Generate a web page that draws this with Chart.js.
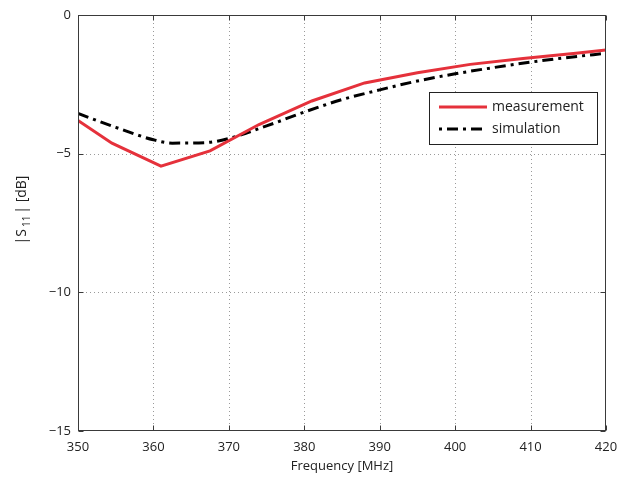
<!DOCTYPE html>
<html>
<head>
<meta charset="utf-8">
<script src="https://cdn.jsdelivr.net/npm/chart.js@4.4.1/dist/chart.umd.min.js"></script>
<style>
  html, body { margin: 0; padding: 0; background: #fff; }
  #wrap { width: 633px; height: 479px; }
</style>
</head>
<body>
<div id="wrap"><canvas id="s11"></canvas></div>
<script>
// measured return loss (linear segments between samples)
const measFreq = [350, 354.5, 361, 367.5, 374, 381, 388, 395, 402, 409, 416, 420];
const measDb = [-3.8, -4.62, -5.45, -4.9, -3.95, -3.1, -2.45, -2.08, -1.78, -1.57, -1.38, -1.26];

// simulated curve
const simFreq = [350, 355, 360, 362.5, 367, 370, 375, 380, 385, 390, 395, 400, 405, 410, 415, 420];
const simDb = [-3.55, -4.05, -4.5, -4.62, -4.6, -4.45, -4.0, -3.5, -3.05, -2.7, -2.38, -2.12, -1.9, -1.7, -1.53, -1.38];

const xTicks = [350, 360, 370, 380, 390, 400, 410, 420];
const yTicks = [0, -5, -10, -15];

const FONT = "'Open Sans', 'Noto Sans', sans-serif";
const RED = "#e5313b";
const DASHDOT = [11, 5, 3, 5];

function toPoints(xs, ys) {
  return xs.map((x, i) => ({ x, y: ys[i] }));
}

// dotted grid, boxed axes with inward ticks, legend and axis titles
const matlabFrame = {
  id: "matlabFrame",
  beforeDatasetsDraw(chart) {
    const { ctx, chartArea: a, scales } = chart;
    ctx.save();
    ctx.strokeStyle = "#9a9a9a";
    ctx.lineWidth = 1;
    ctx.setLineDash([1, 3]);
    xTicks.slice(1, -1).forEach(v => {
      const px = Math.round(scales.x.getPixelForValue(v)) + 0.5;
      ctx.beginPath(); ctx.moveTo(px, a.top); ctx.lineTo(px, a.bottom); ctx.stroke();
    });
    yTicks.slice(1, -1).forEach(v => {
      const py = Math.round(scales.y.getPixelForValue(v)) + 0.5;
      ctx.beginPath(); ctx.moveTo(a.left, py); ctx.lineTo(a.right, py); ctx.stroke();
    });
    ctx.restore();
  },
  afterDatasetsDraw(chart) {
    const { ctx, chartArea: a, scales } = chart;
    ctx.save();
    ctx.strokeStyle = "#3a3a3a";
    ctx.lineWidth = 1;
    const L = Math.round(a.left) + 0.5, R = Math.round(a.right) - 0.5;
    const T = Math.round(a.top) + 0.5, B = Math.round(a.bottom) - 0.5;
    ctx.strokeRect(L, T, R - L, B - T);
    const tk = 5;
    ctx.beginPath();
    xTicks.forEach(v => {
      const px = Math.round(scales.x.getPixelForValue(v)) + 0.5;
      ctx.moveTo(px, B); ctx.lineTo(px, B - tk);
      ctx.moveTo(px, T); ctx.lineTo(px, T + tk);
    });
    yTicks.forEach(v => {
      const py = Math.round(scales.y.getPixelForValue(v)) + 0.5;
      ctx.moveTo(L, py); ctx.lineTo(L + tk, py);
      ctx.moveTo(R, py); ctx.lineTo(R - tk, py);
    });
    ctx.stroke();

    // legend box
    const bx = a.right - 177, by = a.top + 77, bw = 168, bh = 52;
    ctx.fillStyle = "#fff";
    ctx.fillRect(bx, by, bw, bh);
    ctx.strokeStyle = "#222";
    ctx.strokeRect(bx + 0.5, by + 0.5, bw, bh);
    chart.data.datasets.forEach((ds, i) => {
      const ly = by + 15 + i * 22;
      ctx.strokeStyle = ds.borderColor;
      ctx.lineWidth = ds.borderWidth;
      ctx.setLineDash(ds.borderDash || []);
      // start the dash-dot sample on a dot
      ctx.lineDashOffset = ds.borderDash ? ds.borderDash[0] + ds.borderDash[1] : 0;
      ctx.beginPath(); ctx.moveTo(bx + 10, ly); ctx.lineTo(bx + 58, ly); ctx.stroke();
      ctx.setLineDash([]);
      ctx.fillStyle = "#222";
      ctx.font = "14px " + FONT;
      ctx.textBaseline = "middle";
      ctx.textAlign = "left";
      ctx.fillText(ds.label, bx + 63, ly);
    });

    // axis titles
    ctx.fillStyle = "#222";
    ctx.font = "13px " + FONT;
    ctx.textAlign = "center";
    ctx.textBaseline = "middle";
    ctx.fillText("Frequency [MHz]", (a.left + a.right) / 2, 466);

    ctx.translate(22, 209);
    ctx.rotate(-Math.PI / 2);
    ctx.textAlign = "left";
    const parts = [["|S", 14, 0], ["11", 10, 5], ["| [dB]", 14, 0]];
    let w = 0;
    parts.forEach(([t, s]) => { ctx.font = s + "px " + FONT; w += ctx.measureText(t).width + 2; });
    let x = -w / 2;
    parts.forEach(([t, s, dy]) => {
      ctx.font = s + "px " + FONT;
      ctx.fillText(t, x, dy);
      x += ctx.measureText(t).width + 2;
    });
    ctx.restore();
  }
};

new Chart(document.getElementById("s11"), {
  type: "line",
  data: {
    datasets: [
      {
        label: "measurement",
        data: toPoints(measFreq, measDb),
        borderColor: RED,
        borderWidth: 3,
        pointRadius: 0,
        tension: 0
      },
      {
        label: "simulation",
        data: toPoints(simFreq, simDb),
        borderColor: "#000",
        borderWidth: 3,
        borderDash: DASHDOT,
        pointRadius: 0,
        cubicInterpolationMode: "monotone"
      }
    ]
  },
  options: {
    responsive: true,
    maintainAspectRatio: false,
    animation: false,
    layout: { padding: { top: 15, right: 27, left: 0, bottom: 0 } },
    plugins: { legend: { display: false }, tooltip: { enabled: false } },
    scales: {
      x: {
        type: "linear",
        min: 350,
        max: 420,
        afterFit: s => { s.height = 48; },
        afterBuildTicks: s => { s.ticks = xTicks.map(v => ({ value: v })); },
        grid: { display: false, drawTicks: false },
        border: { display: false },
        ticks: { padding: 8, color: "#222", font: { family: FONT, size: 13 }, maxRotation: 0 }
      },
      y: {
        min: -15,
        max: 0,
        afterFit: s => { s.width = 78; },
        afterBuildTicks: s => { s.ticks = yTicks.map(v => ({ value: v })); },
        grid: { display: false, drawTicks: false },
        border: { display: false },
        ticks: {
          padding: 7,
          color: "#222",
          font: { family: FONT, size: 13 },
          callback: v => String(v).replace("-", "\u2212")
        }
      }
    }
  },
  plugins: [matlabFrame]
});
</script>
</body>
</html>
